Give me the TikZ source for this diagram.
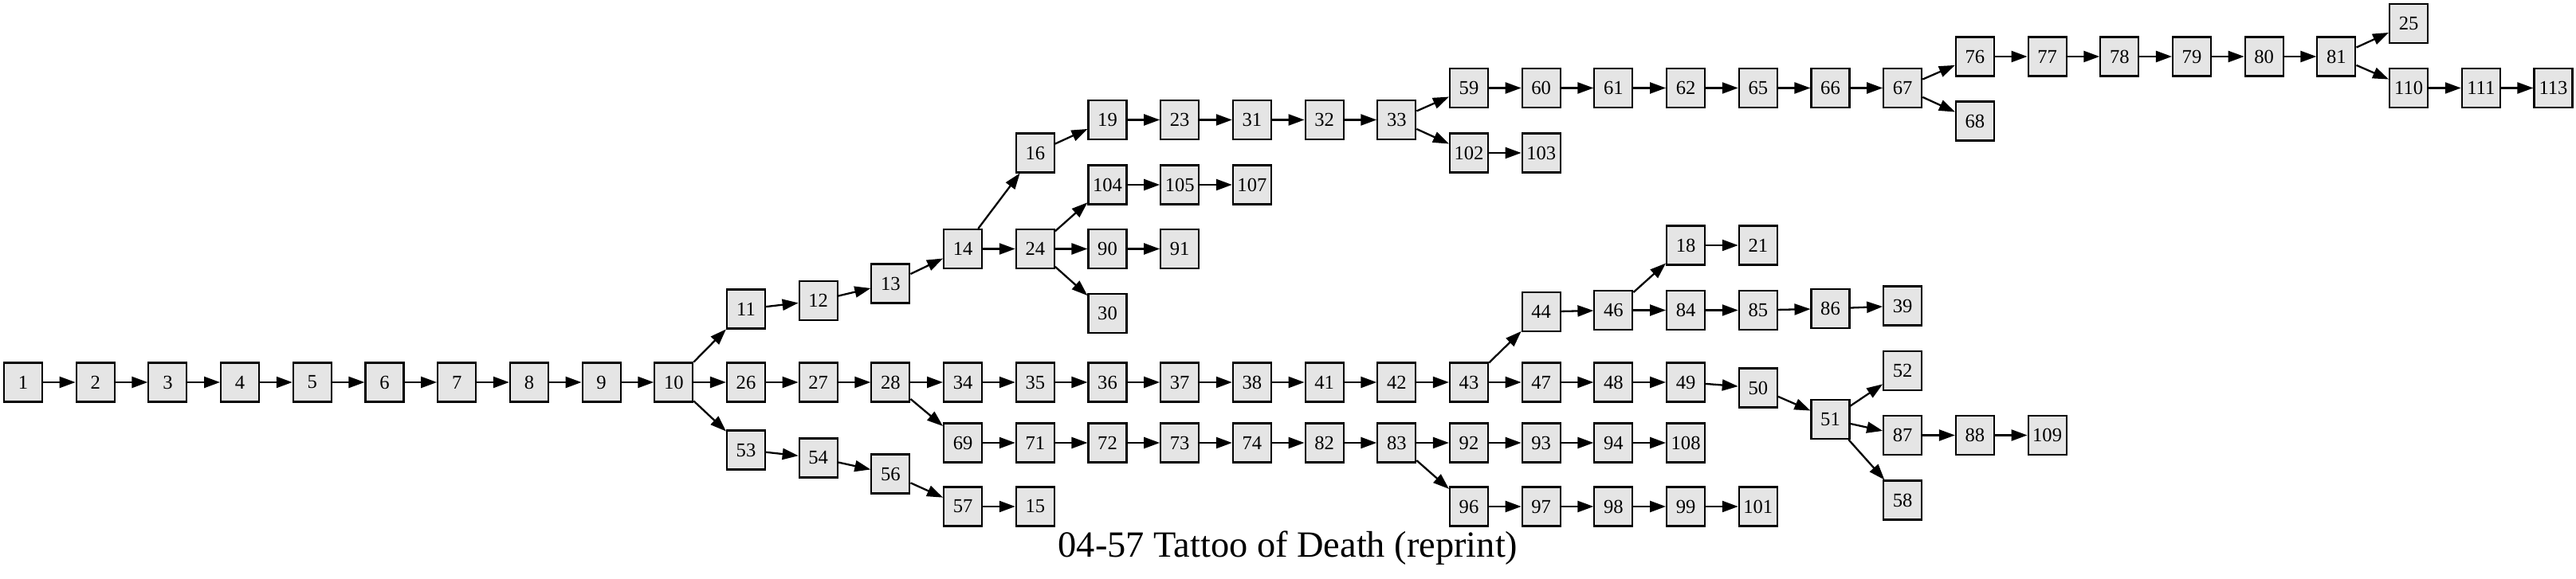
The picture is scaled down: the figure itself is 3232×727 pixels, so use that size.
\documentclass[tikz,border=0pt]{standalone}
\usepackage{fontspec}
\setmainfont{Liberation Serif}
\usepackage{xcolor}
\usetikzlibrary{arrows.meta}
\definecolor{sectgray}{HTML}{E5E5E5}

\begin{document}
\begin{tikzpicture}[line join=miter,x=0.5pt,y=0.5pt,>={Triangle[length=10pt,width=7pt]},
    sect/.style={draw=black,line width=1.05pt,fill=sectgray,minimum width=24pt,minimum height=24.5pt,inner sep=0pt,font=\fontsize{12.3}{14}\selectfont},
    go/.style={->,line width=1.15pt}]
                \useasboundingbox (0,0) rectangle (3232,727);
                % sections, one column every 90.7
                \node[sect] (n1) at (29,247) {1};
                \node[sect] (n2) at (119.7,247) {2};
                \node[sect] (n3) at (210.4,247) {3};
                \node[sect] (n4) at (301.1,247) {4};
                \node[sect] (n5) at (391.8,247) {5};
                \node[sect] (n6) at (482.5,247) {6};
                \node[sect] (n7) at (573.2,247) {7};
                \node[sect] (n8) at (663.9,247) {8};
                \node[sect] (n9) at (754.6,247) {9};
                \node[sect] (n10) at (845.3,247) {10};
                \node[sect] (n11) at (936,339) {11};
                \node[sect] (n26) at (936,247) {26};
                \node[sect] (n53) at (936,162) {53};
                \node[sect] (n12) at (1026.7,349.5) {12};
                \node[sect] (n27) at (1026.7,247) {27};
                \node[sect] (n54) at (1026.7,152) {54};
                \node[sect] (n13) at (1117.4,371) {13};
                \node[sect] (n28) at (1117.4,247) {28};
                \node[sect] (n56) at (1117.4,132) {56};
                \node[sect] (n14) at (1208.1,414.5) {14};
                \node[sect] (n34) at (1208.1,247) {34};
                \node[sect] (n69) at (1208.1,171) {69};
                \node[sect] (n57) at (1208.1,91) {57};
                \node[sect] (n16) at (1298.8,535) {16};
                \node[sect] (n24) at (1298.8,414.5) {24};
                \node[sect] (n35) at (1298.8,247) {35};
                \node[sect] (n71) at (1298.8,171) {71};
                \node[sect] (n15) at (1298.8,91) {15};
                \node[sect] (n19) at (1389.5,576.5) {19};
                \node[sect] (n104) at (1389.5,495) {104};
                \node[sect] (n90) at (1389.5,414.5) {90};
                \node[sect] (n30) at (1389.5,333.5) {30};
                \node[sect] (n36) at (1389.5,247) {36};
                \node[sect] (n72) at (1389.5,171) {72};
                \node[sect] (n23) at (1480.2,576.5) {23};
                \node[sect] (n105) at (1480.2,495) {105};
                \node[sect] (n91) at (1480.2,414.5) {91};
                \node[sect] (n37) at (1480.2,247) {37};
                \node[sect] (n73) at (1480.2,171) {73};
                \node[sect] (n31) at (1570.9,576.5) {31};
                \node[sect] (n107) at (1570.9,495) {107};
                \node[sect] (n38) at (1570.9,247) {38};
                \node[sect] (n74) at (1570.9,171) {74};
                \node[sect] (n32) at (1661.6,576.5) {32};
                \node[sect] (n41) at (1661.6,247) {41};
                \node[sect] (n82) at (1661.6,171) {82};
                \node[sect] (n33) at (1752.3,576.5) {33};
                \node[sect] (n42) at (1752.3,247) {42};
                \node[sect] (n83) at (1752.3,171) {83};
                \node[sect] (n59) at (1843,616.5) {59};
                \node[sect] (n102) at (1843,535) {102};
                \node[sect] (n43) at (1843,247) {43};
                \node[sect] (n92) at (1843,171) {92};
                \node[sect] (n96) at (1843,91) {96};
                \node[sect] (n60) at (1933.7,616.5) {60};
                \node[sect] (n103) at (1933.7,535) {103};
                \node[sect] (n44) at (1933.7,335.5) {44};
                \node[sect] (n47) at (1933.7,247) {47};
                \node[sect] (n93) at (1933.7,171) {93};
                \node[sect] (n97) at (1933.7,91) {97};
                \node[sect] (n61) at (2024.4,616.5) {61};
                \node[sect] (n46) at (2024.4,337.5) {46};
                \node[sect] (n48) at (2024.4,247) {48};
                \node[sect] (n94) at (2024.4,171) {94};
                \node[sect] (n98) at (2024.4,91) {98};
                \node[sect] (n62) at (2115.1,616.5) {62};
                \node[sect] (n18) at (2115.1,419) {18};
                \node[sect] (n84) at (2115.1,337.5) {84};
                \node[sect] (n49) at (2115.1,247) {49};
                \node[sect] (n108) at (2115.1,171) {108};
                \node[sect] (n99) at (2115.1,91) {99};
                \node[sect] (n65) at (2205.8,616.5) {65};
                \node[sect] (n21) at (2205.8,419) {21};
                \node[sect] (n85) at (2205.8,337.5) {85};
                \node[sect] (n50) at (2205.8,240) {50};
                \node[sect] (n101) at (2205.8,91) {101};
                \node[sect] (n66) at (2296.5,616.5) {66};
                \node[sect] (n86) at (2296.5,339.5) {86};
                \node[sect] (n51) at (2296.5,200.5) {51};
                \node[sect] (n67) at (2387.2,616.5) {67};
                \node[sect] (n39) at (2387.2,343) {39};
                \node[sect] (n52) at (2387.2,261.5) {52};
                \node[sect] (n87) at (2387.2,180.5) {87};
                \node[sect] (n58) at (2387.2,99) {58};
                \node[sect] (n76) at (2477.9,656) {76};
                \node[sect] (n68) at (2477.9,575) {68};
                \node[sect] (n88) at (2477.9,180.5) {88};
                \node[sect] (n77) at (2568.6,656) {77};
                \node[sect] (n109) at (2568.6,180.5) {109};
                \node[sect] (n78) at (2659.3,656) {78};
                \node[sect] (n79) at (2750,656) {79};
                \node[sect] (n80) at (2840.7,656) {80};
                \node[sect] (n81) at (2931.4,656) {81};
                \node[sect] (n25) at (3022.1,697.5) {25};
                \node[sect] (n110) at (3022.1,616.5) {110};
                \node[sect] (n111) at (3112.8,616.5) {111};
                \node[sect] (n113) at (3203.5,616.5) {113};
                % links
                \draw[go] (n1) -- (n2);
                \draw[go] (n2) -- (n3);
                \draw[go] (n3) -- (n4);
                \draw[go] (n4) -- (n5);
                \draw[go] (n5) -- (n6);
                \draw[go] (n6) -- (n7);
                \draw[go] (n7) -- (n8);
                \draw[go] (n8) -- (n9);
                \draw[go] (n9) -- (n10);
                \draw[go] (n10) -- (n11);
                \draw[go] (n10) -- (n26);
                \draw[go] (n10) -- (n53);
                \draw[go] (n11) -- (n12);
                \draw[go] (n12) -- (n13);
                \draw[go] (n13) -- (n14);
                \draw[go] (n14) -- (n16);
                \draw[go] (n14) -- (n24);
                \draw[go] (n16) -- (n19);
                \draw[go] (n19) -- (n23);
                \draw[go] (n23) -- (n31);
                \draw[go] (n31) -- (n32);
                \draw[go] (n32) -- (n33);
                \draw[go] (n33) -- (n59);
                \draw[go] (n33) -- (n102);
                \draw[go] (n59) -- (n60);
                \draw[go] (n60) -- (n61);
                \draw[go] (n61) -- (n62);
                \draw[go] (n62) -- (n65);
                \draw[go] (n65) -- (n66);
                \draw[go] (n66) -- (n67);
                \draw[go] (n67) -- (n76);
                \draw[go] (n67) -- (n68);
                \draw[go] (n76) -- (n77);
                \draw[go] (n77) -- (n78);
                \draw[go] (n78) -- (n79);
                \draw[go] (n79) -- (n80);
                \draw[go] (n80) -- (n81);
                \draw[go] (n81) -- (n25);
                \draw[go] (n81) -- (n110);
                \draw[go] (n110) -- (n111);
                \draw[go] (n111) -- (n113);
                \draw[go] (n102) -- (n103);
                \draw[go] (n24) -- (n104);
                \draw[go] (n24) -- (n90);
                \draw[go] (n24) -- (n30);
                \draw[go] (n104) -- (n105);
                \draw[go] (n105) -- (n107);
                \draw[go] (n90) -- (n91);
                \draw[go] (n26) -- (n27);
                \draw[go] (n27) -- (n28);
                \draw[go] (n28) -- (n34);
                \draw[go] (n28) -- (n69);
                \draw[go] (n34) -- (n35);
                \draw[go] (n35) -- (n36);
                \draw[go] (n36) -- (n37);
                \draw[go] (n37) -- (n38);
                \draw[go] (n38) -- (n41);
                \draw[go] (n41) -- (n42);
                \draw[go] (n42) -- (n43);
                \draw[go] (n43) -- (n44);
                \draw[go] (n43) -- (n47);
                \draw[go] (n44) -- (n46);
                \draw[go] (n46) -- (n18);
                \draw[go] (n46) -- (n84);
                \draw[go] (n18) -- (n21);
                \draw[go] (n84) -- (n85);
                \draw[go] (n85) -- (n86);
                \draw[go] (n86) -- (n39);
                \draw[go] (n47) -- (n48);
                \draw[go] (n48) -- (n49);
                \draw[go] (n49) -- (n50);
                \draw[go] (n50) -- (n51);
                \draw[go] (n51) -- (n52);
                \draw[go] (n51) -- (n87);
                \draw[go] (n51) -- (n58);
                \draw[go] (n87) -- (n88);
                \draw[go] (n88) -- (n109);
                \draw[go] (n69) -- (n71);
                \draw[go] (n71) -- (n72);
                \draw[go] (n72) -- (n73);
                \draw[go] (n73) -- (n74);
                \draw[go] (n74) -- (n82);
                \draw[go] (n82) -- (n83);
                \draw[go] (n83) -- (n92);
                \draw[go] (n83) -- (n96);
                \draw[go] (n92) -- (n93);
                \draw[go] (n93) -- (n94);
                \draw[go] (n94) -- (n108);
                \draw[go] (n96) -- (n97);
                \draw[go] (n97) -- (n98);
                \draw[go] (n98) -- (n99);
                \draw[go] (n99) -- (n101);
                \draw[go] (n53) -- (n54);
                \draw[go] (n54) -- (n56);
                \draw[go] (n56) -- (n57);
                \draw[go] (n57) -- (n15);
                % title
                \node[anchor=base,font=\fontsize{23.2}{27}\selectfont] (title) at (1616,27) {04-57 Tattoo of Death (reprint)};
            \end{tikzpicture}
\end{document}
